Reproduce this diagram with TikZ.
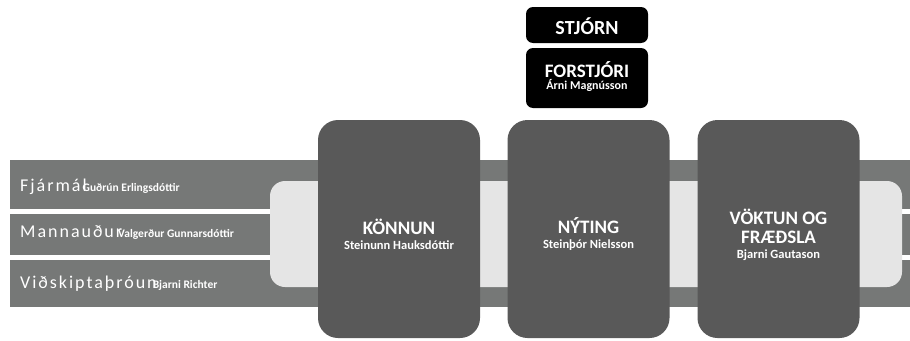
\documentclass[tikz,border=0pt]{standalone}
\usepackage{fontspec}
\setmainfont{Carlito}
\usetikzlibrary{positioning}
\definecolor{boxgray}{HTML}{595959}
\definecolor{bandgray}{HTML}{767877}
\definecolor{lightband}{HTML}{E5E5E5}

\begin{document}
\begin{tikzpicture}[x=1pt,y=-1pt,
		unit/.style={fill=boxgray,rounded corners=20pt,minimum width=162pt,minimum height=218pt,inner sep=0pt},
		top/.style={fill=black,rounded corners=7pt,minimum width=122pt,inner sep=0pt},
		label/.style={text=white,align=center,inner sep=0pt,font=\bfseries},
		row/.style={anchor=west,text=white,inner sep=0pt}]
			\useasboundingbox (0,0) rectangle (910,340);
			\fill[bandgray] (10,160) rectangle (910,307);
			\draw[white,line width=5pt] (10,211.5) -- (910,211.5);
			\draw[white,line width=5pt] (10,257.5) -- (910,257.5);
			\fill[lightband,rounded corners=15pt] (270,181) rectangle (902,287);
			
			\node[top,minimum height=36pt] at (587,25) (stjorn) {};
			\node[top,minimum height=60pt] at (587,78) (forstjori) {};
			\node[label] at (587,26) (stjorntext) {\fontsize{20}{20}\selectfont STJÓRN};
			\node[label] at (587,77) (forstjoritext) {\fontsize{19}{19}\selectfont FORSTJÓRI\\ \fontsize{12}{13}\selectfont Árni Magnússon};
			
			\node[unit] at (399,229) (konnun) {};
			\node[unit] at (588.5,229) (nyting) {};
			\node[unit] at (778.5,229) (voktun) {};
			\node[label] at (399,234) (konnuntext) {\fontsize{19}{19}\selectfont KÖNNUN\\[3pt] \fontsize{12.5}{17}\selectfont Steinunn Hauksdóttir};
			\node[label] at (588.5,234) (nytingtext) {\fontsize{19}{19}\selectfont NÝTING\\[3pt] \fontsize{12.5}{17}\selectfont Steinþór Nielsson};
			\node[label] at (778.5,235) (voktuntext) {\fontsize{19}{19}\selectfont VÖKTUN OG\\[5pt] \fontsize{19}{19}\selectfont FRÆÐSLA\\[3pt] \fontsize{12.5}{17}\selectfont Bjarni Gautason};
			
			\node[row] at (20,187) (fjarmal) {{\fontsize{18}{18}\addfontfeatures{LetterSpace=11}Fjármál}\hspace{-4pt}{\fontsize{11.5}{12}\bfseries Guðrún Erlingsdóttir}};
			\node[row] at (20,232) (mannaudur) {{\fontsize{18}{18}\addfontfeatures{LetterSpace=11}Mannauður}\hspace{-4pt}{\fontsize{11.5}{12}\bfseries Valgerður Gunnarsdóttir}};
			\node[row] at (20,284) (vidskipti) {{\fontsize{18}{18}\addfontfeatures{LetterSpace=11}Viðskiptaþróun}\hspace{-4pt}{\fontsize{11.5}{12}\bfseries Bjarni Richter}};
\end{tikzpicture}
\end{document}
